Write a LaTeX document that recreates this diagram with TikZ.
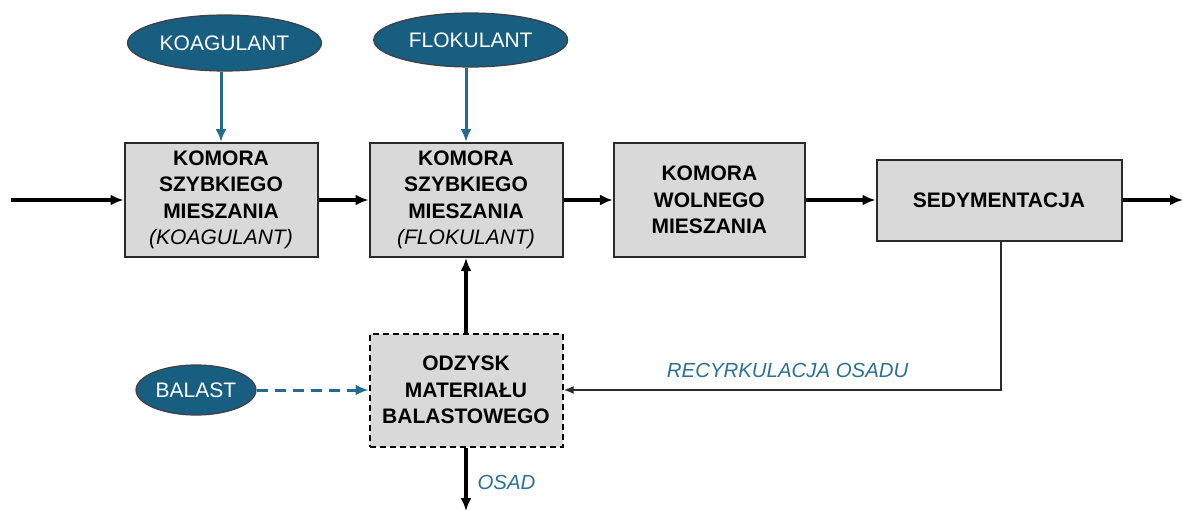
\documentclass[tikz,border=0pt]{standalone}
\usepackage{fontspec}
\setmainfont{Liberation Sans}
\usetikzlibrary{arrows.meta,shapes.geometric}
\definecolor{ellfill}{HTML}{175E80}
\definecolor{arrblue}{HTML}{236C91}
\definecolor{boxfill}{HTML}{D9D9D9}
\definecolor{lblblue}{HTML}{2C7096}
\definecolor{boxline}{HTML}{2A2A2A}
\begin{document}
\begin{tikzpicture}[x=1pt,y=-1pt,
 box/.style={draw=boxline,line width=2pt,fill=boxfill,minimum width=193pt,minimum height=114pt,align=center,font=\fontsize{21}{26.5}\selectfont\bfseries,inner sep=0pt},
 ell/.style={ellipse,draw=black!75,line width=1.2pt,fill=ellfill,text=white,font=\fontsize{21}{24}\selectfont,minimum width=194pt,minimum height=56pt,inner sep=0pt},
 flow/.style={line width=3.6pt,-{Latex[length=13pt,width=11pt]}},
 feed/.style={draw=arrblue,line width=3pt,-{Latex[length=13pt,width=11pt]}},
 lbl/.style={text=lblblue,font=\fontsize{20.4}{24}\selectfont\itshape}]
\useasboundingbox (0,0) rectangle (1183,511);
% ellipses
\node[ell] (k) at (224.5,43) {KOAGULANT};
\node[ell,minimum height=54pt] (f) at (470.7,40) {FLOKULANT};
\node[ell,minimum width=120pt,minimum height=50pt] (bal) at (196,390) {BALAST};
% boxes
\node[box] (b1) at (221,200) {KOMORA\\SZYBKIEGO\\MIESZANIA\\{\mdseries\itshape (KOAGULANT)}};
\node[box] (b2) at (466,200) {KOMORA\\SZYBKIEGO\\MIESZANIA\\{\mdseries\itshape (FLOKULANT)}};
\node[box,minimum width=191pt] (b3) at (709.4,200) {KOMORA\\WOLNEGO\\MIESZANIA};
\node[box,minimum width=245pt,minimum height=81pt] (b4) at (999,200) {SEDYMENTACJA};
\node[box,draw=black,dash pattern=on 6pt off 4pt,minimum height=113pt] (b5) at (466,390) {ODZYSK\\MATERIAŁU\\BALASTOWEGO};
% coordinates
\coordinate (in) at (11,200);
\coordinate (out) at (1183,200);
\coordinate (osad) at (466,511);
\coordinate (rc) at (1001,390);
% connectors
\draw[flow] (in) -- (b1);
\draw[flow] (b1) -- (b2);
\draw[flow] (b2) -- (b3);
\draw[flow] (b3) -- (b4);
\draw[flow] (b4) -- (out);
\draw[flow] (b5) -- (b2);
\draw[flow] (b5) -- (osad);
\draw[feed] (k.south -| b1.north) -- (b1.north);
\draw[feed] (f.south -| b2.north) -- (b2.north);
\draw[feed,dash pattern=on 11pt off 7pt] (bal) -- (b5);
\draw[boxline,line width=2pt,-{Latex[length=10pt,width=8pt]}] (b4.south -| rc) -- (rc) -- (b5.east);
% labels
\node[lbl] (rl) at (787.7,370) {RECYRKULACJA OSADU};
\node[lbl,anchor=west] (ol) at (474,482.7) {OSAD};
\end{tikzpicture}
\end{document}
